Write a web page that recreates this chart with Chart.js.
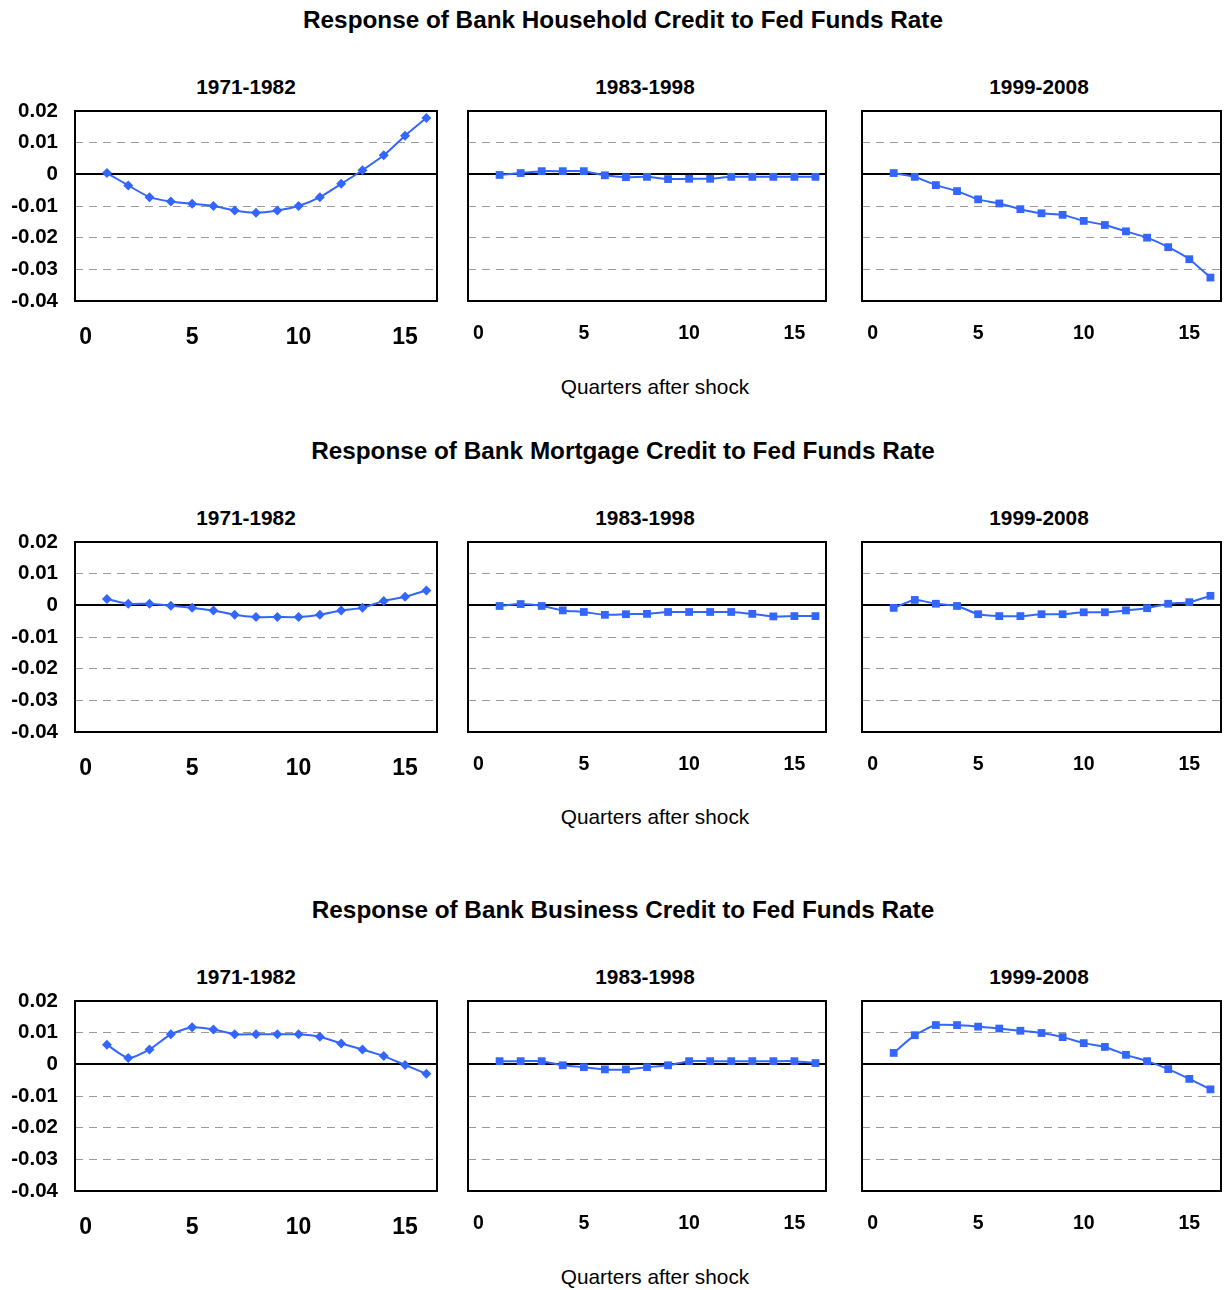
<!DOCTYPE html>
<html>
<head>
<meta charset="utf-8">
<script src="https://cdn.jsdelivr.net/npm/chart.js@4.4.1/dist/chart.umd.min.js"></script>
<style>
body { margin: 0; background: #fff; font-family: "Liberation Sans", Arial, sans-serif; }
#page { position: relative; width: 1227px; height: 1290px; overflow: hidden; }
.t { position: absolute; white-space: nowrap; transform: translate(-50%, -50%); color: #000; }
.main { font-weight: bold; font-size: 24.3px; }
.sub { font-weight: bold; font-size: 20.8px; }
.xl { font-size: 20.8px; }
.box { position: absolute; }
</style>
</head>
<body>
<div id="page"></div>
<script>
"use strict";
const quarters = [1, 2, 3, 4, 5, 6, 7, 8, 9, 10, 11, 12, 13, 14, 15, 16];
const xTicks = [0, 5, 10, 15];
const periods = ["1971-1982", "1983-1998", "1999-2008"];
const titles = [
    "Response of Bank Household Credit to Fed Funds Rate",
    "Response of Bank Mortgage Credit to Fed Funds Rate",
    "Response of Bank Business Credit to Fed Funds Rate"
];
const xLabel = "Quarters after shock";

const householdEarly = [0.0004, -0.0035, -0.0072, -0.0086, -0.0093, -0.0100, -0.0114, -0.0121, -0.0114, -0.0100, -0.0072, -0.0030, 0.0013, 0.0060, 0.0122, 0.0178];
const householdMid = [-0.0002, 0.0004, 0.0010, 0.0010, 0.0010, -0.0003, -0.0009, -0.0008, -0.0015, -0.0014, -0.0014, -0.0008, -0.0008, -0.0008, -0.0008, -0.0008];
const householdLate = [0.0004, -0.0008, -0.0034, -0.0053, -0.0079, -0.0092, -0.0110, -0.0123, -0.0128, -0.0147, -0.0160, -0.0180, -0.0200, -0.0230, -0.0268, -0.0326];
const mortgageEarly = [0.0020, 0.0005, 0.0005, -0.0001, -0.0008, -0.0016, -0.0030, -0.0037, -0.0037, -0.0037, -0.0030, -0.0016, -0.0008, 0.0014, 0.0027, 0.0047];
const mortgageMid = [-0.0002, 0.0004, -0.0002, -0.0016, -0.0021, -0.0030, -0.0028, -0.0027, -0.0021, -0.0021, -0.0021, -0.0021, -0.0027, -0.0035, -0.0034, -0.0034];
const mortgageLate = [-0.0008, 0.0017, 0.0005, -0.0002, -0.0028, -0.0034, -0.0034, -0.0028, -0.0028, -0.0022, -0.0022, -0.0016, -0.0009, 0.0005, 0.0010, 0.0030];
const businessEarly = [0.0062, 0.0020, 0.0047, 0.0095, 0.0117, 0.0110, 0.0095, 0.0095, 0.0095, 0.0095, 0.0087, 0.0066, 0.0047, 0.0026, -0.0002, -0.0030];
const businessMid = [0.0010, 0.0010, 0.0010, -0.0003, -0.0009, -0.0016, -0.0016, -0.0009, -0.0003, 0.0010, 0.0010, 0.0010, 0.0010, 0.0010, 0.0010, 0.0004];
const businessLate = [0.0036, 0.0092, 0.0124, 0.0124, 0.0119, 0.0113, 0.0106, 0.0099, 0.0086, 0.0067, 0.0055, 0.0030, 0.0010, -0.0015, -0.0046, -0.0079];

const rows = [
    [householdEarly, householdMid, householdLate],
    [mortgageEarly, mortgageMid, mortgageLate],
    [businessEarly, businessMid, businessLate]
];

// page layout (px)
const plotLeft = [75, 468, 862];
const plotRight = [437, 826, 1221];
const plotTop = [111, 542, 1001];
const plotHeight = 190;
const mainTitleY = [20, 451, 910];
const periodX = [246, 645, 1039];
const periodY = [87, 518, 977];
const xLabelY = [387, 817, 1277];

const FONT = "'Liberation Sans', Arial, sans-serif";
const BLUE = "#3366ff";
const page = document.getElementById("page");

function add_text(text, cls, x, y) {
    const d = document.createElement("div");
    d.className = "t " + cls;
    d.textContent = text;
    d.style.left = x + "px";
    d.style.top = y + "px";
    page.appendChild(d);
}

const framePlugin = {
    id: "frame",
    afterDatasetsDraw(chart) {
        const a = chart.chartArea;
        const ctx = chart.ctx;
        ctx.save();
        ctx.strokeStyle = "#000";
        ctx.lineWidth = 2;
        ctx.strokeRect(a.left, a.top, a.right - a.left, a.bottom - a.top);
        ctx.restore();
    }
};

function is_zero(c) {
    return c.tick && Math.abs(c.tick.value) < 1e-9;
}

function create_panel(values, row, col) {
    const yw = col === 0 ? 75 : 10;
    const padTop = 14, padRight = 6, xh = 50;
    const left = plotLeft[col] - yw;
    const top = plotTop[row] - padTop;
    const width = plotRight[col] + padRight - left;
    const height = padTop + plotHeight + xh;

    const box = document.createElement("div");
    box.className = "box";
    box.style.left = left + "px";
    box.style.top = top + "px";
    box.style.width = width + "px";
    box.style.height = height + "px";
    const canvas = document.createElement("canvas");
    box.appendChild(canvas);
    page.appendChild(box);

    new Chart(canvas, {
        type: "line",
        data: {
            labels: quarters,
            datasets: [{
                data: quarters.map((q, i) => ({ x: q, y: values[i] })),
                borderColor: BLUE,
                backgroundColor: BLUE,
                borderWidth: 2,
                pointStyle: col === 0 ? "rectRot" : "rect",
                pointRadius: col === 0 ? 5 : 5.5,
                pointBorderWidth: 0,
                tension: 0.2
            }]
        },
        options: {
            responsive: true,
            maintainAspectRatio: false,
            animation: false,
            layout: { padding: { top: padTop, right: padRight, left: 0, bottom: 0 } },
            plugins: { legend: { display: false }, tooltip: { enabled: false } },
            scales: {
                x: {
                    type: "linear",
                    min: -0.5,
                    max: 16.5,
                    afterBuildTicks: axis => { axis.ticks = xTicks.map(v => ({ value: v })); },
                    afterFit: axis => { axis.height = xh; },
                    // invisible tick marks push the labels down
                    grid: { color: "rgba(0,0,0,0)", drawOnChartArea: false, tickLength: col === 0 ? 23 : 21 },
                    border: { display: false },
                    ticks: {
                        padding: 0,
                        color: "#000",
                        maxRotation: 0,
                        font: { family: FONT, weight: "bold", size: col === 0 ? 23 : 19.5 }
                    }
                },
                y: {
                    min: -0.04,
                    max: 0.02,
                    afterFit: axis => { axis.width = yw; },
                    grid: {
                        tickLength: 17,
                        tickColor: "rgba(0,0,0,0)",
                        color: c => is_zero(c) ? "#000" : "#9a9a9a",
                        lineWidth: c => is_zero(c) ? 2 : 1
                    },
                    border: {
                        display: false,
                        dash: c => is_zero(c) ? [] : [8, 6]
                    },
                    ticks: {
                        display: col === 0,
                        stepSize: 0.01,
                        padding: 0,
                        color: "#000",
                        font: { family: FONT, weight: "bold", size: 20.5 },
                        callback: v => Number(Number(v).toFixed(2)).toString()
                    }
                }
            }
        },
        plugins: [framePlugin]
    });
}

rows.forEach((series, r) => {
    add_text(titles[r], "main", 623, mainTitleY[r]);
    add_text(xLabel, "xl", 655, xLabelY[r]);
    series.forEach((values, c) => {
        add_text(periods[c], "sub", periodX[c], periodY[r]);
        create_panel(values, r, c);
    });
});
</script>
</body>
</html>
